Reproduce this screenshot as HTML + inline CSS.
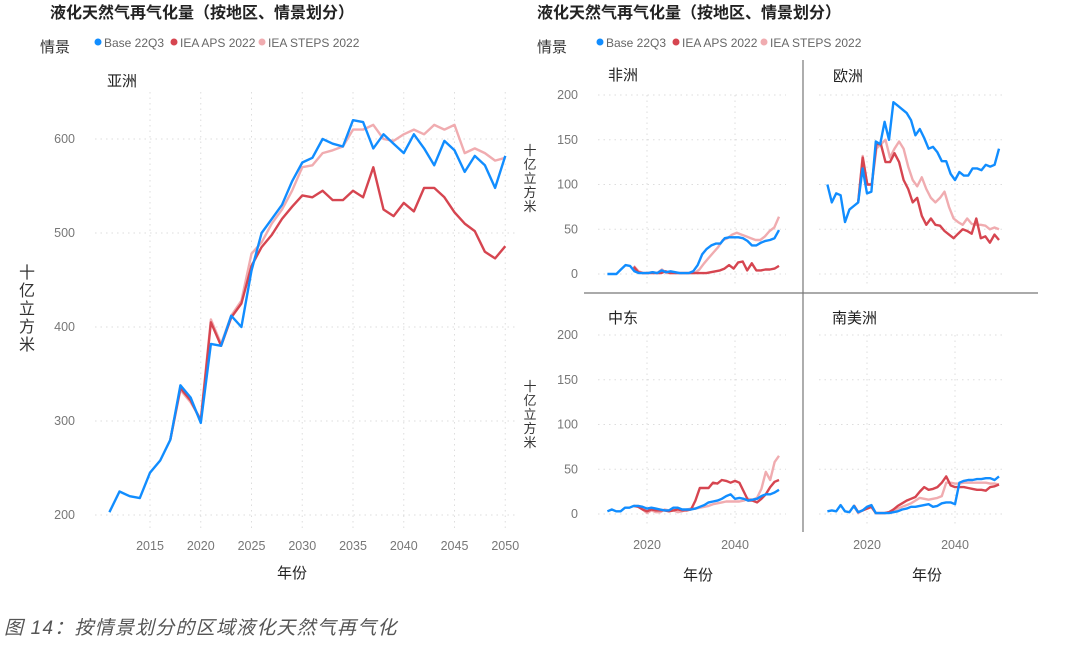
<!DOCTYPE html>
<html><head><meta charset="utf-8"><style>
body{margin:0;background:#fff;width:1080px;height:656px;overflow:hidden;font-family:"Liberation Sans","Noto Sans CJK SC",sans-serif}
svg text{font-family:"Liberation Sans","Noto Sans CJK SC",sans-serif}
</style></head><body>
<svg id="s" width="1080" height="656" xmlns="http://www.w3.org/2000/svg">
<text x="50" y="18" font-size="16" font-weight="bold" fill="#222">液化天然气再气化量（按地区、情景划分）</text>
<text x="537" y="18" font-size="16" font-weight="bold" fill="#222">液化天然气再气化量（按地区、情景划分）</text>
<text x="40" y="52" font-size="15" fill="#333">情景</text>
<text x="537" y="52" font-size="15" fill="#333">情景</text>
<g font-size="12" fill="#666">
<circle cx="98" cy="42" r="3.5" fill="#118dff"/><text x="104" y="47">Base 22Q3</text>
<circle cx="174" cy="42" r="3.5" fill="#d64550"/><text x="180" y="47">IEA APS 2022</text>
<circle cx="262" cy="42" r="3.5" fill="#f0acb0"/><text x="268" y="47">IEA STEPS 2022</text>
<circle cx="600" cy="42" r="3.5" fill="#118dff"/><text x="606" y="47">Base 22Q3</text>
<circle cx="676" cy="42" r="3.5" fill="#d64550"/><text x="682" y="47">IEA APS 2022</text>
<circle cx="764" cy="42" r="3.5" fill="#f0acb0"/><text x="770" y="47">IEA STEPS 2022</text>
</g>
<g font-size="15" fill="#222">
<text x="107" y="86">亚洲</text>
<text x="608" y="80">非洲</text>
<text x="833" y="81">欧洲</text>
<text x="608" y="323">中东</text>
<text x="832" y="323">南美洲</text>
<text x="277" y="578">年份</text>
<text x="683" y="580">年份</text>
<text x="912" y="580">年份</text>
</g>
<g font-size="16" fill="#333" text-anchor="middle">
<text x="27" y="278">十</text><text x="27" y="296">亿</text><text x="27" y="314">立</text><text x="27" y="332">方</text><text x="27" y="350">米</text>
</g>
<g font-size="13" fill="#333" text-anchor="middle">
<text x="530" y="155">十</text><text x="530" y="169">亿</text><text x="530" y="183">立</text><text x="530" y="197">方</text><text x="530" y="211">米</text>
<text x="530" y="391">十</text><text x="530" y="405">亿</text><text x="530" y="419">立</text><text x="530" y="433">方</text><text x="530" y="447">米</text>
</g>
<line x1="584" y1="293" x2="1038" y2="293" stroke="#777" stroke-width="1.2"/>
<line x1="803" y1="60" x2="803" y2="532" stroke="#777" stroke-width="1.2"/>
<text x="4" y="634" font-size="19" letter-spacing="1.2" font-style="italic" fill="#555">图 14：按情景划分的区域液化天然气再气化</text>
<g id="g"></g>
</svg>
<script>
var g=document.getElementById('g'),NS='http://www.w3.org/2000/svg';
function el(t,a,txt){var e=document.createElementNS(NS,t);for(var k in a)e.setAttribute(k,a[k]);if(txt!=null)e.textContent=txt;g.appendChild(e);return e;}
function panel(p){
 var X=function(y){return p.x0+(y-p.y0)*p.xs},Y=function(v){return p.b-(v-p.vmin)*p.vs};
 p.yt.forEach(function(v){el('line',{x1:p.gx1,x2:p.gx2,y1:Y(v),y2:Y(v),stroke:'#ddd','stroke-dasharray':'1.5 4'});
  el('text',{x:p.lx,y:Y(v)+4,'font-size':12.5,fill:'#777','text-anchor':'end'},v);});
 p.xt.forEach(function(y){el('line',{x1:X(y),x2:X(y),y1:p.gt,y2:p.gb,stroke:'#ddd','stroke-dasharray':'1.5 4'});
  if(p.xl)el('text',{x:X(y),y:p.xly,'font-size':12.5,fill:'#777','text-anchor':'middle'},y);});
 p.s.forEach(function(s){var a=s[2],n=a.length,pts=[];
  for(var i=0;i<n;i++){var yr=s[1]+(2050-s[1])*i/(n-1);pts.push(X(yr).toFixed(1)+','+Y(a[i]).toFixed(1));}
  el('polyline',{points:pts.join(' '),fill:'none',stroke:s[0],'stroke-width':2.4,'stroke-linejoin':'round'});});
}
var B='#118dff',R='#d64550',P='#f0acb0';
panel({x0:150,y0:2015,xs:10.15,b:515,vmin:200,vs:0.94,yt:[200,300,400,500,600],xt:[2015,2020,2025,2030,2035,2040,2045,2050],gx1:95,gx2:515,gt:92,gb:530,lx:75,xl:1,xly:550,
s:[[P,2017,[280,333,320,302,408,382,412,428,478,490,510,525,545,570,572,585,588,592,610,610,615,600,598,605,610,605,615,610,615,585,590,585,577,580]],
[R,2017,[280,335,322,300,405,380,410,425,465,485,498,515,528,540,538,545,535,535,545,538,570,525,518,532,523,548,548,538,522,510,502,480,473,486]],
[B,2011,[203,225,220,218,245,258,280,338,325,298,382,380,412,400,460,500,515,530,555,575,580,600,595,592,620,618,590,605,595,585,605,590,572,598,588,565,582,572,548,582]]]});
var R1={xs:4.4,vs:0.895,vmin:0,yt:[0,50,100,150,200],xt:[2020,2040],lx:578};
function mk(o,extra){var r={};for(var k in R1)r[k]=R1[k];for(k in extra)r[k]=extra[k];return r;}
panel(mk(0,{x0:647,y0:2020,b:274,gx1:598,gx2:786,gt:95,gb:285,
s:[[P,2017,[9,3,1,1,2,1,5,1,1,1,1,1,1,1,5,12,18,24,30,38,40,44,46,44,42,40,38,38,42,48,52,64]],
[R,2017,[8,2,1,1,1,1,1,3,1,1,1,1,1,1,1,1,1,2,3,4,6,10,6,13,14,4,12,4,4,5,5,6,9]],
[B,2011,[0,0,0,5,10,9,3,1,1,1,2,1,4,2,3,2,1,1,1,3,10,22,28,32,34,34,40,41,41,41,40,37,32,32,35,37,38,40,49]]]}));
panel(mk(0,{x0:867,y0:2020,b:274,gx1:819,gx2:1005,gt:95,gb:285,lx:-100,
s:[[P,2018,[80,132,100,100,140,145,150,130,140,148,140,120,105,98,108,95,85,80,85,92,75,62,58,55,62,56,55,55,54,50,52,50]],
[R,2018,[80,130,100,100,145,145,125,125,135,125,105,95,80,85,65,55,62,55,54,48,44,40,45,50,48,45,62,40,42,35,44,38]],
[B,2011,[100,80,90,88,58,72,76,80,118,90,92,148,145,170,150,192,188,184,180,172,155,162,152,140,142,136,126,126,112,105,114,110,110,118,118,116,122,120,122,140]]]}));
panel(mk(0,{x0:647,y0:2020,b:514,gx1:598,gx2:786,gt:335,gb:525,xl:1,xly:549,
s:[[P,2017,[9,9,5,1,4,2,2,5,4,4,2,3,5,6,6,7,8,9,11,12,13,14,14,14,14,15,17,16,18,28,47,38,58,65]],
[R,2017,[9,8,5,3,5,4,4,4,3,4,5,4,4,5,15,29,29,29,35,34,38,37,35,37,35,25,15,15,13,17,22,30,36,38]],
[B,2011,[3,5,3,3,7,7,9,9,8,6,7,6,5,4,4,7,7,5,5,5,6,8,10,13,14,15,17,20,22,17,18,17,15,16,17,20,22,22,24,27]]]}));
panel(mk(0,{x0:867,y0:2020,b:514,gx1:819,gx2:1005,gt:335,gb:525,lx:-100,xl:1,xly:549,
s:[[P,2017,[9,1,4,6,8,1,1,1,2,4,6,8,10,12,15,18,17,16,17,18,20,35,35,34,34,35,35,35,35,35,35,34,34,33]],
[R,2017,[10,2,4,6,8,1,1,1,2,5,9,12,15,17,19,25,30,27,28,30,35,42,32,30,30,30,29,28,27,27,26,30,31,33]],
[B,2011,[3,4,3,10,3,2,9,2,4,8,10,1,1,1,1,2,3,5,6,8,8,9,10,11,8,9,12,13,13,11,35,37,38,38,39,39,40,40,38,42]]]}));
</script>
</body></html>
